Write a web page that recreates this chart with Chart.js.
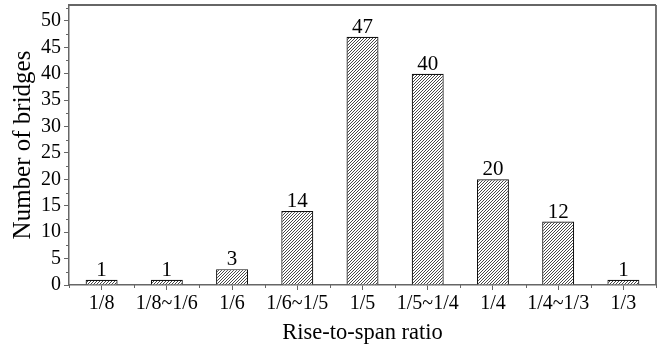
<!DOCTYPE html>
<html>
<head>
<meta charset="utf-8">
<script src="https://cdn.jsdelivr.net/npm/chart.js@4"></script>
<style>
  html, body { margin: 0; padding: 0; background: #fff; }
  #wrap { width: 662px; height: 347px; }
</style>
</head>
<body>
<div id="wrap"><canvas id="c" width="662" height="347"></canvas></div>
<script>
const ratios = ['1/8', '1/8~1/6', '1/6', '1/6~1/5', '1/5', '1/5~1/4', '1/4', '1/4~1/3', '1/3'];
const bridgeCounts = [1, 1, 3, 14, 47, 40, 20, 12, 1];
const yTicks = [0, 5, 10, 15, 20, 25, 30, 35, 40, 45, 50];

const FONT = '"Liberation Serif", "Times New Roman", serif';
const axisColor = '#666';

// hatch pattern ////
function hatch() {
    const s = 3;
    const p = document.createElement('canvas');
    p.width = s; p.height = s;
    const g = p.getContext('2d');
    g.fillStyle = '#fff';
    g.fillRect(0, 0, s, s);
    g.strokeStyle = '#333';
    g.lineWidth = 0.9;
    g.beginPath();
    g.moveTo(-1, s + 1); g.lineTo(s + 1, -1);
    g.moveTo(-1, 1); g.lineTo(1, -1);
    g.moveTo(s - 1, s + 1); g.lineTo(s + 1, s - 1);
    g.stroke();
    return g.createPattern(p, 'repeat');
}

const framePlugin = {
    id: 'frame',
    afterDatasetsDraw(chart) {
        const ctx = chart.ctx;
        const a = chart.chartArea;
        const x = chart.scales.x, y = chart.scales.y;
        ctx.save();
        ctx.strokeStyle = axisColor;
        ctx.lineWidth = 1.8;
        ctx.beginPath();
        ctx.moveTo(a.left, a.top); ctx.lineTo(a.right, a.top);
        ctx.moveTo(a.right, a.top); ctx.lineTo(a.right, a.bottom);
        ctx.stroke();
        // minor ticks
        ctx.lineWidth = 1;
        ctx.beginPath();
        for (let v = 2.5; v < 53; v += 5) {
            const py = Math.round(y.getPixelForValue(v)) + 0.5;
            ctx.moveTo(a.left - 3, py); ctx.lineTo(a.left, py);
        }
        for (let i = 0; i <= ratios.length; i++) {
            const px = Math.round(x.getPixelForValue(i - 0.5)) + 0.5;
            ctx.moveTo(px, a.bottom); ctx.lineTo(px, a.bottom + 3);
        }
        ctx.stroke();
        // value labels
        ctx.fillStyle = '#000';
        ctx.font = '21px ' + FONT;
        ctx.textAlign = 'center';
        ctx.textBaseline = 'alphabetic';
        const meta = chart.getDatasetMeta(0);
        meta.data.forEach((bar, i) => {
            ctx.fillText(String(bridgeCounts[i]), bar.x, bar.y - 4);
        });
        ctx.restore();
    }
};

new Chart(document.getElementById('c'), {
    type: 'bar',
    data: {
        labels: ratios,
        datasets: [{
            data: bridgeCounts,
            backgroundColor: hatch(),
            borderColor: '#111',
            borderWidth: 1.2,
            categoryPercentage: 1,
            barPercentage: 0.49
        }]
    },
    options: {
        responsive: false,
        animation: false,
        layout: { padding: { top: 5, right: 6, left: 0, bottom: 0 } },
        plugins: { legend: { display: false }, tooltip: { enabled: false } },
        scales: {
            x: {
                offset: true,
                grid: { offset: false, drawOnChartArea: false, tickLength: 5, color: axisColor, lineWidth: 1 },
                border: { color: axisColor, width: 1.5 },
                ticks: { color: '#000', font: { family: FONT, size: 20 }, padding: 2, maxRotation: 0, autoSkip: false },
                title: { display: true, text: 'Rise-to-span ratio', color: '#000', font: { family: FONT, size: 22.5 }, padding: { top: 0, bottom: 0 } },
                afterFit: s => { s.height = 62; s.paddingLeft = 0; s.paddingRight = 0; }
            },
            y: {
                min: 0, max: 53,
                afterBuildTicks: s => { s.ticks = yTicks.map(v => ({ value: v })); },
                grid: { drawOnChartArea: false, tickLength: 5, color: axisColor, lineWidth: 1 },
                border: { color: axisColor, width: 1.5 },
                ticks: { color: '#000', font: { family: FONT, size: 20 }, padding: 3 },
                title: { display: true, text: 'Number of bridges', color: '#000', font: { family: FONT, size: 25 }, padding: { top: 8, bottom: 0 } },
                afterFit: s => { s.width = 69; s.paddingTop = 0; s.paddingBottom = 0; }
            }
        }
    },
    plugins: [framePlugin]
});
</script>
</body>
</html>
